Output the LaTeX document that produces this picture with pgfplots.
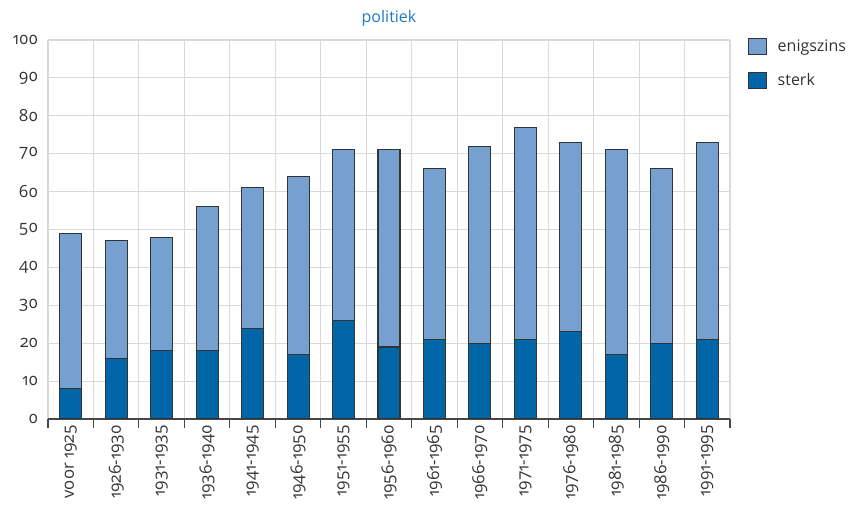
\documentclass[border=0pt]{standalone}
\usepackage{fontspec}
\setmainfont{Open Sans}[Numbers=OldStyle]
\usepackage{pgfplots}
\pgfplotsset{compat=1.18}

\definecolor{sterk}{HTML}{0066A8}
\definecolor{enig}{HTML}{76A0CF}
\definecolor{rand}{HTML}{333333}
\definecolor{raster}{HTML}{D9D9D9}
\definecolor{titel}{HTML}{1F7AC4}

\begin{document}
\begin{tikzpicture}
% vaste paginamaat: 850x510 px bij 0.75pt per px
\path[use as bounding box] (-36pt,-68.25pt) rectangle (601.5pt,314.25pt);
\begin{axis}[
    name=ax,
    at={(0,0)}, anchor=south west,
    scale only axis,
    width=511.5pt, height=284.25pt,
    ybar stacked,
    bar width=16.5pt,
    xmin=-0.5, xmax=14.5,
    ymin=0, ymax=100,
    ytick={0,10,...,100},
    xtick={0,...,14},
    xticklabels={voor 1925,1926-1930,1931-1935,1936-1940,1941-1945,1946-1950,1951-1955,1956-1960,1961-1965,1966-1970,1971-1975,1976-1980,1981-1985,1986-1990,1991-1995},
    minor xtick={-0.5,0.5,...,14.5},
    xminorgrids, ymajorgrids,
    grid style={raster, line width=0.8pt},
    minor grid style={raster, line width=0.8pt},
    axis x line*=bottom,
    axis y line*=left,
    y axis line style={draw=none},
    x axis line style={rand!90, line width=1pt, -},
    major tick length=0pt,
    minor tick length=7pt,
    minor x tick style={rand!90, line width=0.8pt},
    every tick/.style={rand!90},
    tick align=outside,
    xticklabel style={rotate=90, anchor=east, font=\fontsize{12.5}{14}\selectfont, text=rand, xshift=-1pt},
    yticklabel style={font=\fontsize{12.5}{14}\selectfont, text=rand, xshift=-4pt},
    /pgf/number format/assume math mode=true,
    title={politiek},
    title style={font=\fontsize{12}{14}\selectfont, text=titel, yshift=1pt},
    legend style={at={(1.026,1.008)}, anchor=north west, draw=none, fill=none,
        font=\fontsize{12}{14}\selectfont, text=rand, row sep=11pt,
        inner sep=0pt, nodes={inner xsep=8pt}},
    legend cell align=left,
    reverse legend,
    legend image code/.code={\draw[#1, draw=rand] (0pt,-5.5pt) rectangle (13.5pt,6pt);},
]
\addplot+[fill=sterk, draw=rand, line width=0.8pt] coordinates {
    (0,8) (1,16) (2,18) (3,18) (4,24) (5,17) (6,26) (7,19)
    (8,21) (9,20) (10,21) (11,23) (12,17) (13,20) (14,21)
};
\addlegendentry{sterk}
\addplot+[fill=enig, draw=rand, line width=0.8pt] coordinates {
    (0,41) (1,31) (2,30) (3,38) (4,37) (5,47) (6,45) (7,52)
    (8,45) (9,52) (10,56) (11,50) (12,54) (13,46) (14,52)
};
\addlegendentry{enigszins}
\end{axis}
\end{tikzpicture}
\end{document}
